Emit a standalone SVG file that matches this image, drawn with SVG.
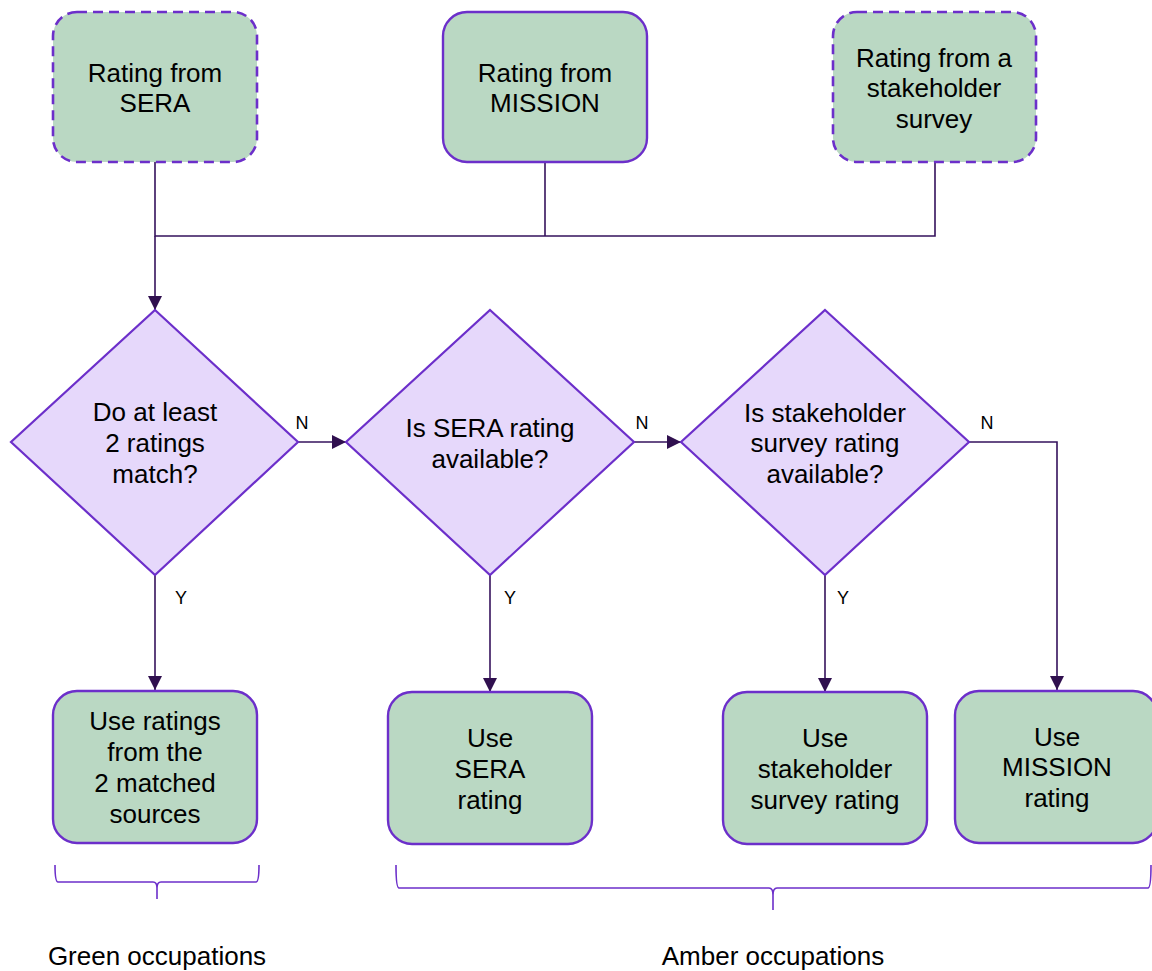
<svg xmlns="http://www.w3.org/2000/svg" width="1152" height="971" viewBox="0 0 1152 971">
<defs>
<style>
.box{fill:#bad8c3;stroke:#6c2fca;stroke-width:2.4}
.dash{stroke-dasharray:10 6;stroke-width:2.6}
.dia{fill:#e6d8fb;stroke:#6c2fca;stroke-width:2.2}
.t{font-family:"Liberation Sans",Arial,sans-serif;font-size:26px;fill:#000;text-anchor:middle}
.lbl{font-family:"Liberation Sans",Arial,sans-serif;font-size:18px;fill:#000;text-anchor:middle}
.c{fill:none;stroke:#35125c;stroke-width:1.6}
.br{fill:none;stroke:#6c2fca;stroke-width:1.6}
</style>
<marker id="ah" markerWidth="14" markerHeight="14" viewBox="0 0 14 14" refX="14" refY="7" orient="auto" markerUnits="userSpaceOnUse">
<path d="M0,0 L14,7 L0,14 Z" fill="#30104f"/>
</marker>
</defs>
<rect width="1152" height="971" fill="#fff"/>

<g id="connectors">
<path class="c" d="M155,162 V236 H935 V162"/>
<path class="c" d="M545,162 V236"/>
<path class="c" d="M155,236 V310" marker-end="url(#ah)"/>
<path class="c" d="M298,442 H346" marker-end="url(#ah)"/>
<path class="c" d="M634,442 H681" marker-end="url(#ah)"/>
<path class="c" d="M969,442 H1057 V690" marker-end="url(#ah)"/>
<path class="c" d="M155,575 V690" marker-end="url(#ah)"/>
<path class="c" d="M490,575 V692" marker-end="url(#ah)"/>
<path class="c" d="M825,575 V692" marker-end="url(#ah)"/>
<text class="lbl" x="302" y="429">N</text>
<text class="lbl" x="642" y="429">N</text>
<text class="lbl" x="987" y="429">N</text>
<text class="lbl" x="181" y="604">Y</text>
<text class="lbl" x="510" y="604">Y</text>
<text class="lbl" x="843" y="604">Y</text>
</g>

<g id="src-sera">
<rect class="box dash" x="53" y="12" width="204" height="150" rx="24"/>
<text class="t" x="155" y="82">Rating from</text>
<text class="t" x="155" y="112">SERA</text>
</g>
<g id="src-mission">
<rect class="box" x="443" y="12" width="204" height="150" rx="24"/>
<text class="t" x="545" y="82">Rating from</text>
<text class="t" x="545" y="112">MISSION</text>
</g>
<g id="src-survey">
<rect class="box dash" x="833" y="12" width="203" height="150" rx="24"/>
<text class="t" x="934" y="67">Rating from a</text>
<text class="t" x="934" y="97">stakeholder</text>
<text class="t" x="934" y="128">survey</text>
</g>

<g id="dec-match">
<polygon class="dia" points="155,310 298,442 155,575 11,442"/>
<text class="t" x="155" y="421">Do at least</text>
<text class="t" x="155" y="452">2 ratings</text>
<text class="t" x="155" y="483">match?</text>
</g>
<g id="dec-sera">
<polygon class="dia" points="490,310 634,442 490,575 346,442"/>
<text class="t" x="490" y="437">Is SERA rating</text>
<text class="t" x="490" y="468">available?</text>
</g>
<g id="dec-survey">
<polygon class="dia" points="825,310 969,442 825,575 681,442"/>
<text class="t" x="825" y="422">Is stakeholder</text>
<text class="t" x="825" y="452">survey rating</text>
<text class="t" x="825" y="483">available?</text>
</g>

<g id="out-matched">
<rect class="box" x="53" y="691" width="204" height="152" rx="24"/>
<text class="t" x="155" y="730">Use ratings</text>
<text class="t" x="155" y="761">from the</text>
<text class="t" x="155" y="792">2 matched</text>
<text class="t" x="155" y="823">sources</text>
</g>
<g id="out-sera">
<rect class="box" x="388" y="692" width="204" height="152" rx="24"/>
<text class="t" x="490" y="747">Use</text>
<text class="t" x="490" y="778">SERA</text>
<text class="t" x="490" y="809">rating</text>
</g>
<g id="out-survey">
<rect class="box" x="723" y="692" width="204" height="152" rx="24"/>
<text class="t" x="825" y="747">Use</text>
<text class="t" x="825" y="778">stakeholder</text>
<text class="t" x="825" y="809">survey rating</text>
</g>
<g id="out-mission">
<rect class="box" x="955" y="691" width="202" height="152" rx="24"/>
<text class="t" x="1057" y="746">Use</text>
<text class="t" x="1057" y="776">MISSION</text>
<text class="t" x="1057" y="807">rating</text>
</g>

<g id="brace-green">
<path class="br" d="M55,865 Q55,882 58,882 H153 Q157,882 157,888 V899 M157,888 Q157,882 161,882 H256 Q259,882 259,865"/>
<text class="t" x="157" y="965">Green occupations</text>
</g>
<g id="brace-amber">
<path class="br" d="M396,865 Q396,888 399,888 H769 Q773,888 773,895 V910 M773,895 Q773,888 777,888 H1148 Q1151,888 1151,865"/>
<text class="t" x="773" y="965">Amber occupations</text>
</g>
</svg>
